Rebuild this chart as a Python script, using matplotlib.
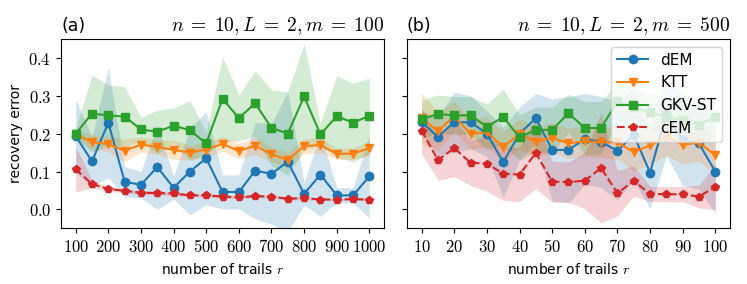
import numpy as np
import matplotlib
matplotlib.use("Agg")
import matplotlib.pyplot as plt
from matplotlib.ticker import FuncFormatter

plt.rcParams['mathtext.fontset'] = 'cm'

# ---------- data: panel (a), m = 100 ----------
r_a = list(range(100, 1001, 50))
dem_a = [0.193, 0.127, 0.229, 0.073, 0.065, 0.112, 0.057, 0.100, 0.135, 0.046,
         0.046, 0.102, 0.094, 0.126, 0.041, 0.092, 0.037, 0.037, 0.087]
dem_a_sd = [0.097, 0.065, 0.145, 0.040, 0.035, 0.112, 0.030, 0.114, 0.123, 0.045,
            0.045, 0.127, 0.133, 0.185, 0.030, 0.110, 0.020, 0.020, 0.110]
ktt_a = [0.198, 0.178, 0.172, 0.155, 0.171, 0.165, 0.157, 0.150, 0.158, 0.173,
         0.154, 0.168, 0.145, 0.131, 0.167, 0.170, 0.147, 0.147, 0.162]
ktt_a_sd = [0.010, 0.020, 0.020, 0.030, 0.020, 0.020, 0.025, 0.020, 0.020, 0.020,
            0.020, 0.024, 0.020, 0.020, 0.020, 0.020, 0.015, 0.015, 0.020]
gkv_a = [0.200, 0.253, 0.248, 0.245, 0.211, 0.205, 0.221, 0.209, 0.174, 0.292,
         0.241, 0.280, 0.215, 0.200, 0.298, 0.198, 0.246, 0.229, 0.247]
gkv_a_sd = [0.015, 0.102, 0.080, 0.079, 0.032, 0.057, 0.047, 0.078, 0.030, 0.111,
            0.061, 0.086, 0.100, 0.111, 0.139, 0.030, 0.107, 0.104, 0.099]
cem_a = [0.106, 0.067, 0.054, 0.049, 0.044, 0.043, 0.042, 0.037, 0.037, 0.034,
         0.032, 0.035, 0.034, 0.028, 0.030, 0.026, 0.026, 0.027, 0.026]
cem_a_sd = [0.060, 0.010, 0.006, 0.005, 0.005, 0.005, 0.005, 0.004, 0.004, 0.004,
            0.004, 0.004, 0.004, 0.004, 0.004, 0.003, 0.003, 0.003, 0.003]

# ---------- data: panel (b), m = 500 ----------
r_b = list(range(10, 101, 5))
dem_b = [0.230, 0.192, 0.230, 0.230, 0.200, 0.125, 0.200, 0.241, 0.157, 0.157,
         0.186, 0.178, 0.155, 0.197, 0.097, 0.251, 0.183, 0.174, 0.100]
dem_b_sd = [0.030, 0.050, 0.079, 0.070, 0.060, 0.092, 0.070, 0.065, 0.135, 0.140,
            0.120, 0.120, 0.130, 0.120, 0.095, 0.110, 0.120, 0.120, 0.111]
ktt_b = [0.240, 0.207, 0.246, 0.199, 0.204, 0.165, 0.199, 0.179, 0.189, 0.174,
         0.180, 0.177, 0.177, 0.151, 0.169, 0.192, 0.171, 0.176, 0.143]
ktt_b_sd = [0.067, 0.050, 0.040, 0.040, 0.040, 0.040, 0.040, 0.040, 0.040, 0.040,
            0.040, 0.040, 0.045, 0.050, 0.050, 0.050, 0.050, 0.050, 0.050]
gkv_b = [0.238, 0.252, 0.248, 0.248, 0.218, 0.244, 0.190, 0.210, 0.210, 0.254,
         0.215, 0.215, 0.285, 0.270, 0.256, 0.245, 0.235, 0.224, 0.244]
gkv_b_sd = [0.050, 0.050, 0.050, 0.050, 0.060, 0.073, 0.060, 0.060, 0.060, 0.050,
            0.070, 0.070, 0.050, 0.050, 0.050, 0.050, 0.050, 0.050, 0.050]
cem_b = [0.208, 0.130, 0.162, 0.123, 0.121, 0.094, 0.092, 0.149, 0.073, 0.072,
         0.076, 0.109, 0.043, 0.075, 0.041, 0.040, 0.040, 0.034, 0.059]
cem_b_sd = [0.060, 0.053, 0.076, 0.060, 0.073, 0.070, 0.072, 0.094, 0.054, 0.053,
            0.074, 0.145, 0.060, 0.040, 0.020, 0.020, 0.020, 0.030, 0.060]

methods = ["dEM", "KTT", "GKV-ST", "cEM"]
colors = ["tab:blue", "tab:orange", "tab:green", "tab:red"]
markers = ["o", "v", "s", "p"]
styles = ["-", "-", "-", "--"]

panels = [
    (r_a, [dem_a, ktt_a, gkv_a, cem_a], [dem_a_sd, ktt_a_sd, gkv_a_sd, cem_a_sd],
     "(a)", r"$n\;=\;10, L\;=\;2, m\;=\;100$", range(100, 1001, 100)),
    (r_b, [dem_b, ktt_b, gkv_b, cem_b], [dem_b_sd, ktt_b_sd, gkv_b_sd, cem_b_sd],
     "(b)", r"$n\;=\;10, L\;=\;2, m\;=\;500$", range(10, 101, 10)),
]

fig = plt.figure(figsize=(7.47, 2.84), dpi=100)
ax_a = fig.add_axes([0.0817, 0.196, 0.4324, 0.667])
ax_b = fig.add_axes([0.5448, 0.196, 0.4324, 0.667], sharey=ax_a)

fmt_x = FuncFormatter(lambda v, p: f"${int(v)}$")

for ax, (r, means, sds, tag, title, xt) in zip([ax_a, ax_b], panels):
    x = np.array(r)
    for name, m, s, c, mk, ls in zip(methods, means, sds, colors, markers, styles):
        m = np.array(m)
        s = np.array(s)
        ax.fill_between(x, m - s, m + s, color=c, alpha=0.2, linewidth=0)
        ax.plot(x, m, color=c, marker=mk, linestyle=ls, markersize=6, label=name)
    ax.set_xticks(list(xt))
    ax.xaxis.set_major_formatter(fmt_x)
    ax.set_xlabel(r"number of trails $r$", fontsize=10)
    ax.set_title(tag, loc="left", fontsize=12.5)
    ax.set_title(title, loc="right", fontsize=14)
    ax.tick_params(labelsize=12)

ax_a.set_ylim(-0.05, 0.45)
ax_a.set_yticks([0.0, 0.1, 0.2, 0.3, 0.4])
ax_a.yaxis.set_major_formatter(FuncFormatter(lambda v, p: f"${v:.1f}$"))
ax_a.set_ylabel("recovery error", fontsize=10)
plt.setp(ax_b.get_yticklabels(), visible=False)

ax_b.legend(loc="upper right", fontsize=11)

fig.savefig("out.png", dpi=100)
